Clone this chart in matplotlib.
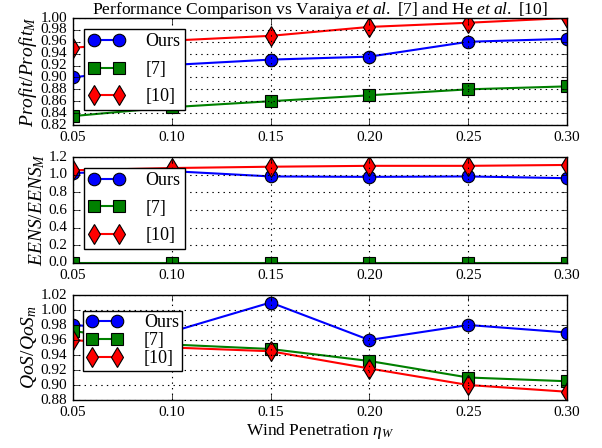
import matplotlib
matplotlib.use("Agg")
import matplotlib.pyplot as plt
import numpy as np
from matplotlib.ticker import FormatStrFormatter

plt.style.use('classic')
plt.rcParams['font.family'] = ['Liberation Serif', 'DejaVu Serif']
plt.rcParams['mathtext.fontset'] = 'custom'
plt.rcParams['mathtext.rm'] = 'Liberation Serif'
plt.rcParams['mathtext.it'] = 'Liberation Serif:italic'
plt.rcParams['mathtext.bf'] = 'Liberation Serif:bold'

wind = [0.05, 0.10, 0.15, 0.20, 0.25, 0.30]

profit_ours = [0.900, 0.921, 0.930, 0.935, 0.960, 0.965]
profit_7 = [0.835, 0.850, 0.860, 0.870, 0.880, 0.885]
profit_10 = [0.950, 0.962, 0.970, 0.985, 0.992, 1.000]

eens_ours = [1.02, 1.04, 0.98, 0.975, 0.98, 0.96]
eens_7 = [0.0, 0.0, 0.0, 0.0, 0.0, 0.0]
eens_10 = [1.05, 1.075, 1.09, 1.10, 1.10, 1.11]

qos_ours = [0.980, 0.971, 1.010, 0.960, 0.980, 0.970]
qos_7 = [0.972, 0.954, 0.948, 0.932, 0.910, 0.905]
qos_10 = [0.960, 0.950, 0.945, 0.922, 0.900, 0.891]

labels = ['Ours', '[7]', '[10]']
xticks = [0.05, 0.10, 0.15, 0.20, 0.25, 0.30]

fig = plt.figure(figsize=(6.02, 4.48), dpi=100, facecolor='white')
W, H = 602.0, 448.0
left, right = 73 / W, 567 / W
boxes = [(18, 125), (157, 263), (295, 400)]
axes = []
for top, bot in boxes:
    ax = fig.add_axes([left, 1 - bot / H, right - left, (bot - top) / H])
    axes.append(ax)

panels = [
    (axes[0], (profit_ours, profit_7, profit_10), (0.82, 1.00), np.arange(0.82, 1.001, 0.02), '%.2f', r'$Profit/Profit_M$'),
    (axes[1], (eens_ours, eens_7, eens_10), (0.0, 1.2), np.arange(0.0, 1.201, 0.2), '%.1f', r'$EENS/EENS_M$'),
    (axes[2], (qos_ours, qos_7, qos_10), (0.88, 1.02), np.arange(0.88, 1.021, 0.02), '%.2f', r'$QoS/QoS_m$'),
]
styles = [('b', 'o'), ('g', 's'), ('r', 'd')]

for i, (ax, series, ylim, yt, fmt, ylab) in enumerate(panels):
    for (c, m), s, lab in zip(styles, series, labels):
        ax.plot(wind, s, color=c, marker=m, lw=1.5, ms=9 if m != 'd' else 10,
                mec='k', mew=0.8, label=lab)
    ax.set_xlim(0.05, 0.30)
    ax.set_ylim(*ylim)
    ax.set_xticks(xticks)
    ax.set_yticks(yt)
    ax.xaxis.set_major_formatter(FormatStrFormatter('%.2f'))
    ax.yaxis.set_major_formatter(FormatStrFormatter(fmt))
    ax.tick_params(labelsize=11)
    ax.grid(True, linestyle=':', color='k', lw=0.8)
    ax.set_ylabel(ylab, fontsize=14, labelpad=1)
    if i < 2:
        leg = ax.legend(loc='upper left', fontsize=13, numpoints=2, labelspacing=0.58,
                        borderpad=0.25, handlelength=2.0, handletextpad=1.15,
                        fancybox=False, bbox_to_anchor=(0.0, 1.0), borderaxespad=0.6)
    else:
        leg = ax.legend(loc='upper left', fontsize=13, numpoints=2, labelspacing=0.05,
                        borderpad=0.18, handlelength=2.0, handletextpad=1.2,
                        fancybox=False, bbox_to_anchor=(0.0, 0.94), borderaxespad=0.55)
    leg.get_frame().set_edgecolor('k')

axes[0].set_title(r'Performance Comparison vs Varaiya $\mathit{et\ al.}$ [7] and He $\mathit{et\ al.}$ [10]',
                  fontsize=12.6, pad=3)
axes[2].set_xlabel(r'Wind Penetration $\eta_W$', fontsize=12.5, labelpad=2)

fig.savefig('out.png', dpi=100, facecolor='white')
